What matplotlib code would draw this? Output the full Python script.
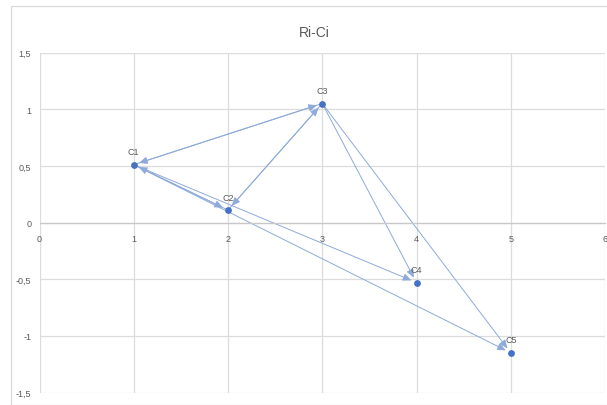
import matplotlib
matplotlib.use("Agg")
import matplotlib.pyplot as plt
from matplotlib.patches import Rectangle, FancyArrowPatch

plt.rcParams['font.family'] = ['Liberation Sans Narrow', 'Liberation Sans', 'DejaVu Sans']

# Node coordinates
names = ["C1", "C2", "C3", "C4", "C5"]
xs = [1, 2, 3, 4, 5]
ys = [0.51, 0.11, 1.05, -0.53, -1.15]

# Directed edges between nodes
edge_from = ["C1", "C2", "C3", "C1", "C3", "C2", "C1", "C3", "C3", "C1"]
edge_to   = ["C2", "C3", "C1", "C3", "C2", "C1", "C4", "C4", "C5", "C5"]

x_ticks = [0, 1, 2, 3, 4, 5, 6]
y_ticks = [-1.5, -1, -0.5, 0, 0.5, 1, 1.5]
y_tick_labels = ["-1,5", "-1", "-0,5", "0", "0,5", "1", "1,5"]

W, H = 607, 406
fig = plt.figure(figsize=(W / 100, H / 100), dpi=100)

# Chart area frame
fig.patches.append(Rectangle((11 / W, 0), 1.0, 1 - 7 / H, transform=fig.transFigure,
                             fill=False, edgecolor="#d9d9d9", linewidth=0.9))

ax = fig.add_axes([39.5 / W, 12.5 / H, (605 - 39.5) / W, (393.5 - 53.5) / H])
ax.set_xlim(0, 6)
ax.set_ylim(-1.5, 1.5)

grid_c = "#dcdcdc"
text_c = "#595959"
for x in x_ticks:
    ax.axvline(x, color=grid_c, lw=0.9, zorder=0)
for y in y_ticks:
    ax.axhline(y, color=grid_c, lw=0.9, zorder=0)

for s in ["top", "right", "left"]:
    ax.spines[s].set_visible(False)
ax.spines["bottom"].set_position(("data", 0))
ax.spines["bottom"].set_color("#c8c8c8")
ax.spines["bottom"].set_linewidth(0.9)

ax.set_xticks(x_ticks)
ax.set_xticklabels([str(v) for v in x_ticks])
ax.set_yticks(y_ticks)
ax.set_yticklabels(y_tick_labels)
ax.tick_params(axis="both", length=0, labelsize=6.5, colors=text_c)
ax.tick_params(axis="x", pad=8)
ax.tick_params(axis="y", pad=6)

pos = {n: (x, y) for n, x, y in zip(names, xs, ys)}
line_c = "#8eaadb"
for a, b in zip(edge_from, edge_to):
    arr = FancyArrowPatch(pos[a], pos[b], arrowstyle="-|>,head_length=0.5,head_width=0.22",
                          mutation_scale=10, color=line_c, lw=0.7,
                          shrinkA=2, shrinkB=4, zorder=2)
    ax.add_patch(arr)

ax.scatter(xs, ys, s=24, color="#4472c4", zorder=3, linewidths=0)
for n, x, y in zip(names, xs, ys):
    ax.annotate(n, (x, y), xytext=(0, 6), textcoords="offset points",
                ha="center", va="bottom", fontsize=6.5, color=text_c)

fig.text(314 / W, 1 - 33 / H, "Ri-Ci", ha="center", va="center", fontsize=10, color=text_c)

fig.savefig("out.png", dpi=100)
